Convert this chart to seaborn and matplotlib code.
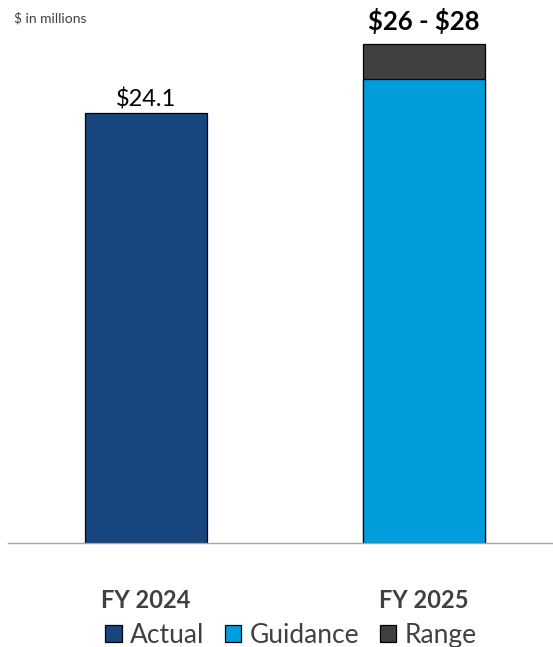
import matplotlib
matplotlib.use("Agg")
import matplotlib.pyplot as plt
from matplotlib.patches import Patch
import seaborn as sns
import pandas as pd

# ---- data ----
categories = ["FY 2024", "FY 2025"]
actual = [24.1, None]
guidance = [None, 26.0]
range_width = [None, 2.0]
bar_labels = ["\\$24.1", "\\$26 - \\$28"]
legend_labels = ["Actual", "Guidance", "Range"]
unit_note = "\\$ in millions"

DARK_BLUE = "#17467f"
LIGHT_BLUE = "#009ddc"
GRAY = "#404040"

sns.set_theme(style="white")
plt.rcParams["font.family"] = ["Lato", "DejaVu Sans"]

fig = plt.figure(figsize=(5.53, 6.47), dpi=100)
ax = fig.add_axes([8 / 553, 104 / 647, 545 / 553, 543 / 647])

# stacked totals for FY 2025 (guidance + range)
tot = [(g + r) if g is not None else None for g, r in zip(guidance, range_width)]
df_range = pd.DataFrame({"cat": [c for c, v in zip(categories, tot) if v is not None],
                         "val": [v for v in tot if v is not None]})
df_guid = pd.DataFrame({"cat": [c for c, v in zip(categories, guidance) if v is not None],
                        "val": [v for v in guidance if v is not None]})
df_act = pd.DataFrame({"cat": [c for c, v in zip(categories, actual) if v is not None],
                       "val": [v for v in actual if v is not None]})

common = dict(x="cat", y="val", order=categories, width=0.44, errorbar=None,
              edgecolor="black", linewidth=0.9, ax=ax)
sns.barplot(data=df_range, color=GRAY, saturation=1, **common)
sns.barplot(data=df_guid, color=LIGHT_BLUE, saturation=1, **common)
sns.barplot(data=df_act, color=DARK_BLUE, saturation=1, **common)

ax.set_xlim(-0.496, 1.464)
ax.set_ylim(0, 30.44)
ax.set_xlabel("")
ax.set_ylabel("")
ax.set_yticks([])
for s in ["top", "left", "right"]:
    ax.spines[s].set_visible(False)
ax.spines["bottom"].set_color("#a6a6a6")
ax.spines["bottom"].set_linewidth(1.0)

ax.tick_params(axis="x", length=0, pad=33)
ax.set_xticks(range(len(categories)))
ax.set_xticklabels(categories, fontsize=17, fontweight="bold", color=GRAY)

# value labels
ax.text(0, actual[0] + 0.15, bar_labels[0], ha="center", va="bottom",
        fontsize=17, color="black")
ax.text(1, tot[1] + 0.55, bar_labels[1], ha="center", va="bottom",
        fontsize=18.5, fontweight="bold", color="black")

fig.text(14 / 553, 1 - 18 / 647, unit_note, ha="left", va="center",
         fontsize=10, color=GRAY)

handles = [Patch(facecolor=c, edgecolor="black", linewidth=0.9)
           for c in [DARK_BLUE, LIGHT_BLUE, GRAY]]
fig.legend(handles, legend_labels, loc="center", bbox_to_anchor=(0.526, 0.018),
           ncol=3, frameon=False, fontsize=19, handlelength=0.62,
           handleheight=0.62, handletextpad=0.3, columnspacing=0.8,
           labelcolor=GRAY)

fig.savefig("out.png", dpi=100)
